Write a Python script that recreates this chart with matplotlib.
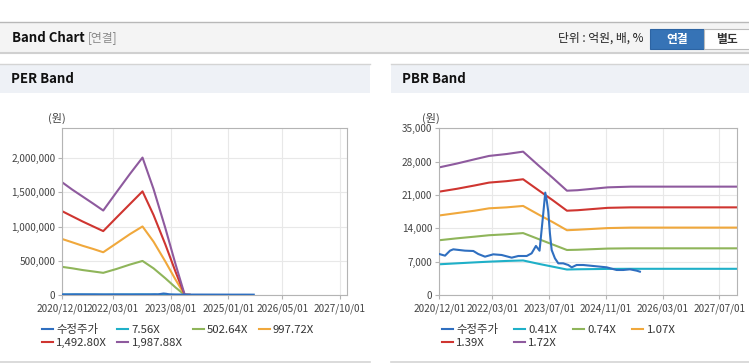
import matplotlib
matplotlib.use("Agg")
import matplotlib.pyplot as plt
import matplotlib.dates as mdates
from matplotlib.patches import Rectangle
from matplotlib.lines import Line2D
from matplotlib.ticker import FuncFormatter
import pandas as pd

plt.rcParams['font.family'] = ['Noto Sans CJK KR', 'DejaVu Sans']

# ---- data ----
# adjusted price (수정주가), shared by both charts
price_dates = ["2020-12-01", "2021-01-19", "2021-03-03", "2021-03-31", "2021-07-09",
               "2021-09-19", "2021-10-31", "2021-12-28", "2022-03-09", "2022-05-20",
               "2022-08-14", "2022-10-10", "2022-12-21", "2023-02-01", "2023-03-10",
               "2023-04-10", "2023-05-12", "2023-05-29", "2023-06-10", "2023-06-24",
               "2023-07-08", "2023-07-23", "2023-08-20", "2023-09-18", "2023-10-30",
               "2023-12-12", "2024-01-11", "2024-02-22", "2024-04-19", "2024-07-14",
               "2024-11-06", "2025-01-30", "2025-03-28", "2025-05-25", "2025-07-21",
               "2025-08-18"]
price_values = [8600, 8260, 9310, 9590, 9310,
                9240, 8610, 8050, 8540, 8400,
                7840, 8190, 8190, 8750, 10300,
                9300, 17150, 21500, 19950, 17500,
                12950, 9450, 7700, 6650, 6650,
                6300, 5810, 6300, 6300, 6090,
                5810, 5250, 5250, 5390, 5110,
                4900]

# PER band
per_dates = ["2020-12-01", "2021-03-01", "2021-06-01", "2021-09-01", "2021-12-04",
             "2022-04-01", "2022-08-01", "2022-11-22", "2023-03-01", "2023-06-15",
             "2023-09-15", "2023-12-06", "2024-01-20"]
per_labels = ["7.56X", "502.64X", "997.72X", "1,492.80X", "1,987.88X"]
per_756 = [6260, 5860, 5480, 5100, 4700, 5700, 6730, 7640, 5900, 3730, 1710, 20, 10]
per_50264 = [411000, 390000, 365000, 345000, 324000, 380000, 445000, 498000,
             390000, 245000, 110000, 2000, 1000]
per_99772 = [818000, 770000, 720000, 675000, 625000, 755000, 890000, 1002000,
             780000, 490000, 225000, 3000, 1000]
per_149280 = [1224000, 1150000, 1075000, 1005000, 934000, 1130000, 1330000, 1515000,
              1170000, 740000, 340000, 4000, 2000]
per_198788 = [1646000, 1540000, 1440000, 1340000, 1235000, 1500000, 1770000, 2009000,
              1550000, 980000, 450000, 5000, 3000]
per_xticks = ["2020-12-01", "2022-03-01", "2023-08-01", "2025-01-01", "2026-05-01", "2027-10-01"]
per_yticks = [0, 500000, 1000000, 1500000, 2000000]

# PBR band
pbr_dates = ["2020-12-01", "2021-05-01", "2021-10-01", "2022-02-01", "2022-07-01",
             "2022-11-20", "2023-04-01", "2023-08-01", "2023-12-01", "2024-03-01",
             "2024-11-15", "2025-06-01", "2027-12-01"]
pbr_labels = ["0.41X", "0.74X", "1.07X", "1.39X", "1.72X"]
pbr_041 = [6450, 6650, 6850, 7000, 7150, 7250, 6550, 5950, 5350, 5400, 5480, 5500, 5500]
pbr_074 = [11500, 11900, 12250, 12550, 12750, 13000, 11750, 10600, 9450, 9500, 9750, 9800, 9800]
pbr_107 = [16700, 17200, 17700, 18200, 18400, 18700, 16900, 15300, 13600, 13700, 14050, 14150, 14150]
pbr_139 = [21700, 22300, 23000, 23600, 23900, 24300, 22000, 19900, 17700, 17800, 18300, 18400, 18400]
pbr_172 = [26800, 27600, 28500, 29200, 29600, 30100, 27200, 24600, 21900, 22000, 22600, 22750, 22750]
pbr_xticks = ["2020-12-01", "2022-03-01", "2023-07-01", "2024-11-01", "2026-03-01", "2027-07-01"]
pbr_yticks = [0, 7000, 14000, 21000, 28000, 35000]

band_colors = ["#1fb0c8", "#8fb55a", "#f0a83c", "#cf3530", "#8e5a9e"]
price_color = "#2f6fc0"

W, H = 749, 364
fig = plt.figure(figsize=(W / 100, H / 100), dpi=100)
fig.patch.set_facecolor("white")


def fx(x):
    return x / W


def fy(y):
    return 1 - y / H


def box(x0, y0, x1, y1, **kw):
    fig.add_artist(Rectangle((fx(x0), fy(y1)), fx(x1) - fx(x0), fy(y0) - fy(y1),
                             transform=fig.transFigure, **kw))


def hline(x0, x1, y, color, lw=1.0):
    fig.add_artist(Line2D([fx(x0), fx(x1)], [fy(y), fy(y)], transform=fig.transFigure,
                          color=color, lw=lw))


# page header
box(0, 22, W, 52, facecolor="#f4f4f4", edgecolor="none")
hline(0, W, 22, "#b8b8b8")
hline(0, W, 52.5, "#d0d0d0", 1.5)
fig.text(fx(12), fy(38), "Band Chart", fontsize=9.5, fontweight="bold", color="#111",
         va="center")
fig.text(fx(88), fy(38), "[연결]", fontsize=8.5, color="#888", va="center")
fig.text(fx(643), fy(38), "단위 : 억원, 배, %", fontsize=8.5, color="#222", va="center", ha="right")
box(650, 29, 704, 49, facecolor="#3673b6", edgecolor="#2d64a3", lw=0.8)
fig.text(fx(677), fy(39), "연결", fontsize=8.5, fontweight="bold", color="white",
         va="center", ha="center")
box(704, 29, 752, 49, facecolor="white", edgecolor="#bbbbbb", lw=0.8)
fig.text(fx(727), fy(39), "별도", fontsize=8.5, fontweight="bold", color="#333",
         va="center", ha="center")

# panel headers
for x0, x1, title in [(0, 370, "PER Band"), (391, W, "PBR Band")]:
    box(x0, 64, x1, 93, facecolor="#eef1f6", edgecolor="none")
    hline(x0, x1, 64, "#d4d4d4")
    hline(x0, x1, 361.5, "#d4d4d4", 1.2)
    fig.text(fx(x0 + 11), fy(79), title, fontsize=9.5, fontweight="bold", color="#111",
             va="center")


def draw_panel(rect, xlim, ylim, xticks, yticks, band_dates, bands, labels, unit_x,
               legend_x, colspace):
    ax = fig.add_axes(rect)
    bd = pd.to_datetime(band_dates)
    for vals, col, lab in zip(bands, band_colors, labels):
        ax.plot(bd, vals, color=col, lw=1.5, label=lab, zorder=2)
    ax.plot(pd.to_datetime(price_dates), price_values, color=price_color, lw=1.5,
            label="수정주가", zorder=3)
    ax.set_xlim(pd.to_datetime(xlim[0]), pd.to_datetime(xlim[1]))
    ax.set_ylim(*ylim)
    ax.set_xticks(pd.to_datetime(xticks))
    ax.xaxis.set_major_formatter(mdates.DateFormatter("%Y/%m/%d"))
    ax.set_yticks(yticks)
    ax.yaxis.set_major_formatter(FuncFormatter(lambda v, p: f"{v:,.0f}"))
    ax.grid(True, color="#e8e8e8", lw=0.8)
    ax.set_axisbelow(True)
    for s in ax.spines.values():
        s.set_color("#b4b4b4")
    ax.tick_params(axis="both", labelsize=7.2, colors="#b4b4b4", labelcolor="#444",
                   length=3, width=0.8)
    ax.tick_params(axis="x", pad=3)
    ax.tick_params(axis="y", pad=2)
    fig.text(fx(unit_x), fy(118), "(원)", fontsize=8, color="#444", ha="center", va="center")

    handles, labs = ax.get_legend_handles_labels()
    # reorder so the legend reads row by row like the original
    order = [5, 3, 0, 4, 1, 2]
    leg = ax.legend([handles[i] for i in order], [labs[i] for i in order], ncol=4,
                    loc="upper left", bbox_to_anchor=(fx(legend_x), fy(324)),
                    bbox_transform=fig.transFigure, frameon=False, fontsize=8.2,
                    handlelength=0.95, handletextpad=0.3, columnspacing=colspace,
                    labelspacing=0.25, borderaxespad=0, borderpad=0)
    for t in leg.get_texts():
        t.set_color("#333")
    return ax


draw_panel([fx(62.3), fy(295), fx(347.3) - fx(62.3), fy(128.3) - fy(295)],
           ("2020-12-01", "2027-12-07"), (0, 2437000), per_xticks, per_yticks,
           per_dates, [per_756, per_50264, per_99772, per_149280, per_198788],
           per_labels, 57, 42, 0.9)

draw_panel([fx(439.3), fy(295), fx(737) - fx(439.3), fy(128.3) - fy(295)],
           ("2020-12-01", "2027-11-29"), (0, 35000), pbr_xticks, pbr_yticks,
           pbr_dates, [pbr_041, pbr_074, pbr_107, pbr_139, pbr_172],
           pbr_labels, 431, 442, 1.4)

fig.savefig("out.png", dpi=100)
